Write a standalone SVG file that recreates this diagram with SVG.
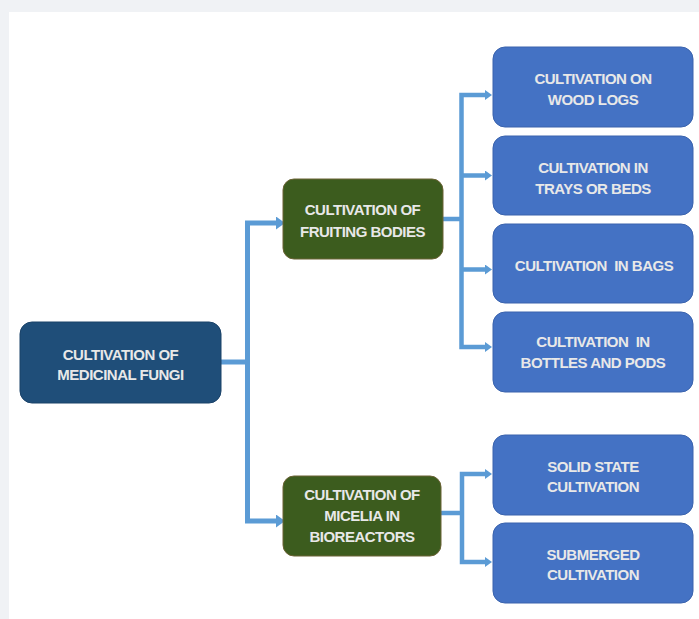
<svg xmlns="http://www.w3.org/2000/svg" width="699" height="619" viewBox="0 0 699 619">
<style>
.t{font-family:"Liberation Sans",Arial,sans-serif;font-weight:bold;font-size:15px;letter-spacing:-0.5px;fill:#e8e8e8;text-anchor:middle}
.root{fill:#1f4e79;stroke:#1a4269;stroke-width:1}
.green{fill:#3c5c1e;stroke:#6b6234;stroke-width:1}
.blue{fill:#4472c4;stroke:#3a63ad;stroke-width:1}
.c1{fill:none;stroke:#5b9bd5;stroke-width:5}
.c2{fill:none;stroke:#5b9bd5;stroke-width:4.5}
</style>
<defs>
<marker id="a1" markerUnits="userSpaceOnUse" markerWidth="9" markerHeight="13" refX="0" refY="6.5" orient="auto">
<path d="M0,0 L9,6.5 L0,13 z" fill="#5b9bd5"/>
</marker>
<marker id="a2" markerUnits="userSpaceOnUse" markerWidth="7" markerHeight="10" refX="0" refY="5" orient="auto">
<path d="M0,0 L7,5 L0,10 z" fill="#5b9bd5"/>
</marker>
</defs>
<rect x="0" y="0" width="699" height="619" fill="#f0f2f5"/>
<rect x="9" y="12" width="690" height="607" fill="#ffffff"/>
<g id="connectors">
<path class="c1" d="M221,362 H247.5"/>
<path class="c1" d="M247.5,362 V223 H276" marker-end="url(#a1)"/>
<path class="c1" d="M247.5,362 V521 H276" marker-end="url(#a1)"/>
<path class="c2" d="M443,219 H461.5"/>
<path class="c2" d="M461.5,219 V95 H485" marker-end="url(#a2)"/>
<path class="c2" d="M461.5,219 V347 H485" marker-end="url(#a2)"/>
<path class="c2" d="M461.5,175.5 H485" marker-end="url(#a2)"/>
<path class="c2" d="M461.5,269.5 H485" marker-end="url(#a2)"/>
<path class="c2" d="M441,513 H462"/>
<path class="c2" d="M462,513 V474 H485" marker-end="url(#a2)"/>
<path class="c2" d="M462,513 V562 H485" marker-end="url(#a2)"/>
</g>
<g id="root">
<rect class="root" x="20" y="322" width="201" height="81" rx="12"/>
<text class="t" x="120.5" y="360">CULTIVATION OF</text>
<text class="t" x="120.5" y="380">MEDICINAL FUNGI</text>
</g>
<g id="fruiting">
<rect class="green" x="283" y="179" width="160" height="80" rx="11"/>
<text class="t" x="362.5" y="215">CULTIVATION OF</text>
<text class="t" x="362.5" y="237">FRUITING BODIES</text>
</g>
<g id="micelia">
<rect class="green" x="283" y="476" width="158" height="80" rx="11"/>
<text class="t" x="362" y="500">CULTIVATION OF</text>
<text class="t" x="362" y="521">MICELIA IN</text>
<text class="t" x="362" y="542">BIOREACTORS</text>
</g>
<g id="wood">
<rect class="blue" x="493" y="47" width="200" height="80" rx="12"/>
<text class="t" x="593" y="83.5">CULTIVATION ON</text>
<text class="t" x="593" y="105">WOOD LOGS</text>
</g>
<g id="trays">
<rect class="blue" x="493" y="136" width="200" height="79" rx="12"/>
<text class="t" x="593" y="172.5">CULTIVATION IN</text>
<text class="t" x="593" y="193.5">TRAYS OR BEDS</text>
</g>
<g id="bags">
<rect class="blue" x="493" y="224" width="200" height="79" rx="12"/>
<text class="t" x="594" y="271" xml:space="preserve">CULTIVATION  IN BAGS</text>
</g>
<g id="bottles">
<rect class="blue" x="493" y="312" width="200" height="80" rx="12"/>
<text class="t" x="593" y="347" xml:space="preserve">CULTIVATION  IN</text>
<text class="t" x="593" y="368">BOTTLES AND PODS</text>
</g>
<g id="solid">
<rect class="blue" x="493" y="435" width="200" height="80" rx="12"/>
<text class="t" x="593" y="472">SOLID STATE</text>
<text class="t" x="593" y="492">CULTIVATION</text>
</g>
<g id="submerged">
<rect class="blue" x="493" y="523" width="200" height="80" rx="12"/>
<text class="t" x="593" y="560">SUBMERGED</text>
<text class="t" x="593" y="580">CULTIVATION</text>
</g>
</svg>
